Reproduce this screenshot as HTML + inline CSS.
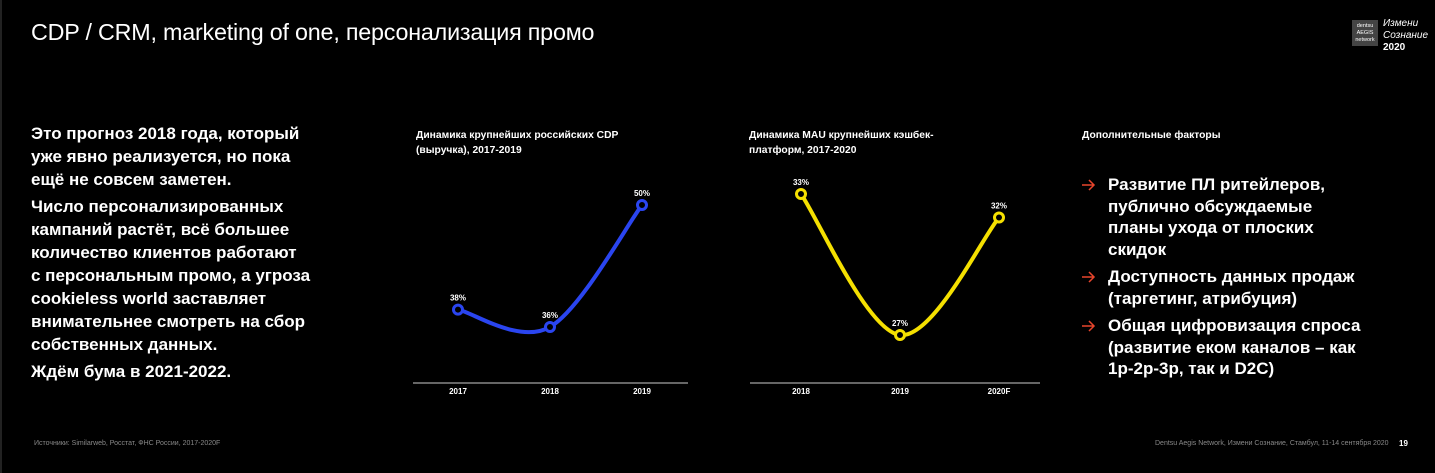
<!DOCTYPE html>
<html><head><meta charset="utf-8">
<style>
html,body{margin:0;padding:0;background:#000;}
body{width:1435px;height:473px;position:relative;overflow:hidden;font-family:"Liberation Sans","Noto Sans CJK SC",sans-serif;color:#fff;}
.abs{position:absolute;}
.title{left:31px;top:19px;font-size:23.3px;font-weight:normal;letter-spacing:-0.2px;}
.lead{left:31px;top:122px;font-size:17px;font-weight:bold;line-height:23px;white-space:nowrap;}
.lead p{margin:0 0 4px 0;}
.ct{font-size:10.3px;font-weight:bold;line-height:15px;}
.list{left:1082px;top:174px;font-size:17px;font-weight:bold;line-height:21.5px;white-space:nowrap;}
.item{position:relative;padding-left:26px;margin-bottom:6px;}
.item svg.arr{position:absolute;left:0;top:5px;}
.foot{font-size:7px;color:#888;}
</style></head><body>
<div class="abs" style="left:0;top:0;width:2px;height:473px;background:#222"></div>
<div class="abs title">CDP / CRM, marketing of one, персонализация промо</div>
<div class="abs" style="left:1352px;top:20px;width:26px;height:26px;background:#444;font-size:5.5px;line-height:7px;text-align:center;padding-top:3px;box-sizing:border-box">dentsu<br>AEGIS<br>network</div>
<div class="abs" style="left:1383px;top:18px;font-size:10px;font-style:italic;line-height:12px">Измени<br>Сознание <b style="font-style:normal">2020</b></div>

<div class="abs lead">
<p>Это прогноз 2018 года, который<br>уже явно реализуется, но пока<br>ещё не совсем заметен.</p>
<p>Число персонализированных<br>кампаний растёт, всё большее<br>количество клиентов работают<br>с персональным промо, а угроза<br>cookieless world заставляет<br>внимательнее смотреть на сбор<br>собственных данных.</p>
<p>Ждём бума в 2021-2022.</p>
</div>

<div class="abs ct" style="left:416px;top:128px">Динамика крупнейших российских CDP<br>(выручка), 2017-2019</div>
<div class="abs ct" style="left:749px;top:128px">Динамика MAU крупнейших кэшбек-<br>платформ, 2017-2020</div>
<div class="abs ct" style="left:1082px;top:128px">Дополнительные факторы</div>

<svg class="abs" style="left:0;top:0" width="1435" height="473" id="charts"></svg>

<div class="abs list">
<div class="item"><svg class="arr" width="14" height="12" viewBox="0 0 14 12"><path d="M0 6H12M7 1L12 6L7 11" stroke="#e8452c" stroke-width="1.5" fill="none"/></svg>Развитие ПЛ ритейлеров,<br>публично обсуждаемые<br>планы ухода от плоских<br>скидок</div>
<div class="item"><svg class="arr" width="14" height="12" viewBox="0 0 14 12"><path d="M0 6H12M7 1L12 6L7 11" stroke="#e8452c" stroke-width="1.5" fill="none"/></svg>Доступность данных продаж<br>(таргетинг, атрибуция)</div>
<div class="item"><svg class="arr" width="14" height="12" viewBox="0 0 14 12"><path d="M0 6H12M7 1L12 6L7 11" stroke="#e8452c" stroke-width="1.5" fill="none"/></svg>Общая цифровизация спроса<br>(развитие еком каналов – как<br>1р-2р-3р, так и D2C)</div>
</div>

<div class="abs foot" style="left:34px;top:440px">Источники: Similarweb, Росстат, ФНС России, 2017-2020F</div>
<div class="abs foot" style="left:1155px;top:440px">Dentsu Aegis Network, Измени Сознание, Стамбул, 11-14 сентября 2020</div>
<div class="abs" style="left:1399px;top:439px;font-size:8px;font-weight:bold">19</div>

<script>
const cdpYears = ["2017","2018","2019"];
const cdpValues = [38, 36, 50];
const cdpLabels = ["38%","36%","50%"];
const mauYears = ["2018","2019","2020F"];
const mauValues = [33, 27, 32];
const mauLabels = ["33%","27%","32%"];

const NS = "http://www.w3.org/2000/svg";
const svg = document.getElementById('charts');
function mk(tag, attrs){const e=document.createElementNS(NS,tag);for(const k in attrs)e.setAttribute(k,attrs[k]);svg.appendChild(e);return e;}
function spline(pts){
  let d="M"+pts[0][0]+","+pts[0][1];
  for(let i=0;i<pts.length-1;i++){
    const p0=pts[i-1]||pts[i],p1=pts[i],p2=pts[i+1],p3=pts[i+2]||p2;
    const t=1/3;
    const c1=[p1[0]+(p2[0]-p0[0])*t/2,p1[1]+(p2[1]-p0[1])*t/2];
    const c2=[p2[0]-(p3[0]-p1[0])*t/2,p2[1]-(p3[1]-p1[1])*t/2];
    d+=" C"+c1[0]+","+c1[1]+" "+c2[0]+","+c2[1]+" "+p2[0]+","+p2[1];
  }
  return d;
}
function drawChart(id, cats, vals, labs, color, axisX0, axisX1, xs, vA, yA, vB, yB){
  const xf = i => xs[0] + i*(xs[1]-xs[0]);
  const yf = v => yA + (v - vA)*(yB - yA)/(vB - vA);
  const axis = mk('line',{x1:axisX0,x2:axisX1,y1:383,y2:383,stroke:'#888','stroke-width':1.5});
  
  
  const pts = vals.map((v,i)=>[xf(i),yf(v)]);
  const path = mk('path',{d:spline(pts),fill:'none',stroke:color,'stroke-width':4,'stroke-linecap':'round'});
  
  
  cats.forEach((c,i)=>{
    const t = mk('text',{x:xf(i),y:394,'text-anchor':'middle',fill:'#fff','font-size':8,'font-weight':'bold'});
    t.textContent=c;
    
    
    const m = mk('circle',{cx:pts[i][0],cy:pts[i][1],r:4.5,fill:'#000',stroke:color,'stroke-width':3});
    
    
    const l = mk('text',{x:pts[i][0],y:pts[i][1]-9,'text-anchor':'middle',fill:'#fff','font-size':8,'font-weight':'bold'});
    l.textContent=labs[i];
    
    
  });
}
drawChart('cdp-chart', cdpYears, cdpValues, cdpLabels, '#2a45f0', 413, 688, [458,550], 50, 205, 36, 327);
drawChart('mau-chart', mauYears, mauValues, mauLabels, '#f5e000', 750, 1040, [801,900], 33, 194, 27, 335);
</script>
</body></html>
